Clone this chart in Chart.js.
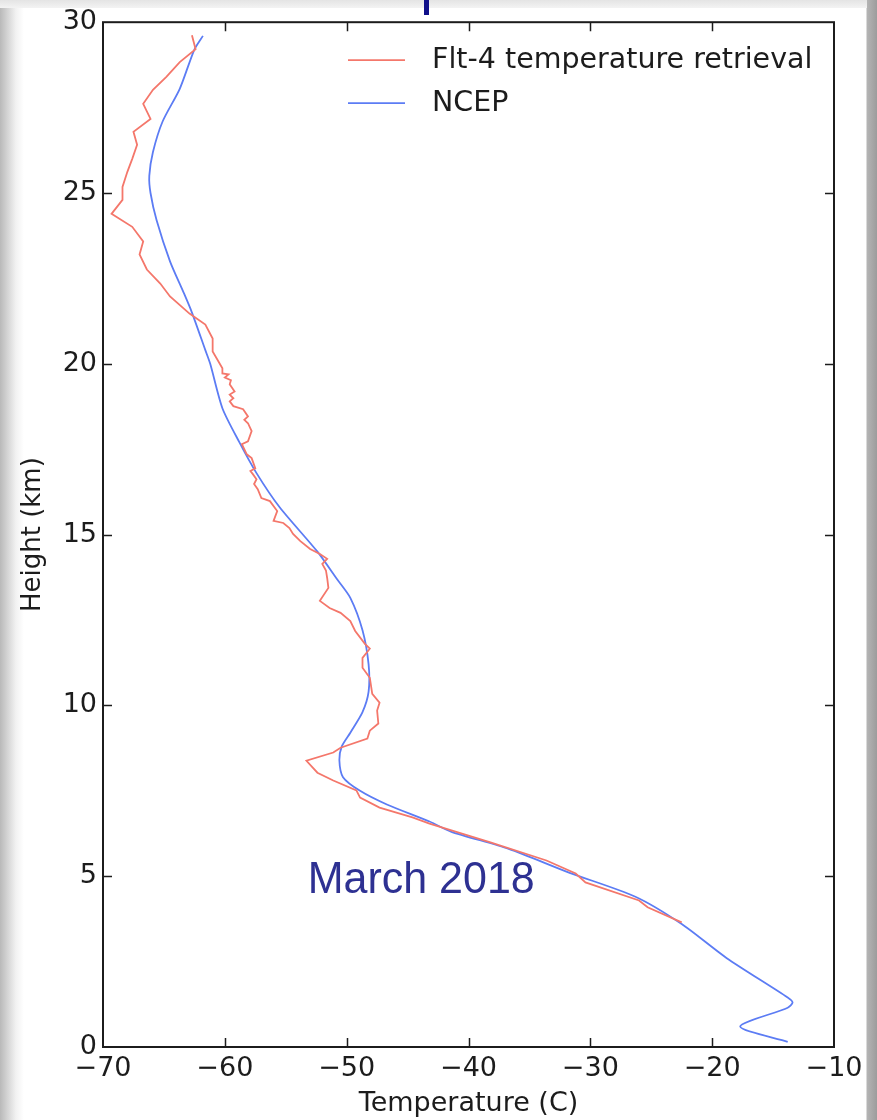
<!DOCTYPE html>
<html>
<head>
<meta charset="utf-8">
<script src="https://cdn.jsdelivr.net/npm/chart.js@4.4.1/dist/chart.umd.min.js"></script>
<style>
  html, body { margin: 0; padding: 0; }
  body {
    width: 877px; height: 1120px; overflow: hidden; position: relative;
    background: linear-gradient(to right, #b9b9b9 0px, #d6d6d6 8px, #f2f2f2 16px, #ffffff 24px, #ffffff 866px, #b4b4b4 867px, #9c9c9c 877px);
  }
  #topband {
    position: absolute; left: 0; top: 0; width: 867px; height: 8px;
    background: linear-gradient(to bottom, #e4e4e4, #f3f3f3);
  }
  #mark {
    position: absolute; left: 424px; top: 0; width: 5px; height: 15px; background: #10108a;
  }
  #wrap { position: absolute; left: 0; top: 0; width: 877px; height: 1120px; }
</style>
</head>
<body>
<div id="topband"></div>
<div id="mark"></div>
<div id="wrap"><canvas id="c" width="877" height="1120"></canvas></div>
<script>
// Temperature profiles (temperature in C, height in km)
const fltLabel = 'Flt-4 temperature retrieval';
const fltTemp = [
  -62.7, -62.4, -63.7, -64.8, -65.9, -66.7, -66.1, -67.5, -67.2, -67.6,
  -68.0, -68.4, -68.4, -69.3, -67.6, -66.7, -67.0, -66.4, -65.3, -64.5,
  -62.9, -61.6, -61.0, -61.0, -60.2, -60.2, -59.7, -60.0, -59.5, -59.6,
  -59.2, -59.6, -59.3, -59.6, -59.3, -58.5, -58.1, -58.4, -58.1, -57.8,
  -58.1, -58.6, -58.2, -57.8, -57.5, -57.9, -57.7, -57.4, -57.6, -57.3,
  -57.0, -56.3, -55.7, -56.0, -55.2, -54.7, -54.4, -53.8, -53.0, -52.2,
  -51.6, -52.0, -51.7, -51.6, -51.5, -52.2, -51.4, -50.5, -49.7, -49.3,
  -48.5, -48.1, -48.7, -48.7, -48.1, -47.9, -47.3, -47.5, -47.4, -48.1,
  -48.3, -50.5, -51.1, -53.3, -52.4, -51.1, -49.2, -48.9, -47.3, -44.6,
  -43.2, -38.2, -33.6, -31.2, -30.4, -26.0, -25.3, -22.5
];
const fltHeight = [
  29.62, 29.21, 28.83, 28.40, 28.02, 27.61, 27.17, 26.79, 26.41, 26.00,
  25.62, 25.18, 24.80, 24.39, 24.01, 23.58, 23.20, 22.76, 22.35, 21.97,
  21.47, 21.15, 20.74, 20.36, 19.87, 19.72, 19.69, 19.60, 19.52, 19.40,
  19.19, 19.10, 18.99, 18.90, 18.76, 18.67, 18.46, 18.36, 18.26, 18.03,
  17.73, 17.65, 17.35, 17.24, 16.94, 16.86, 16.77, 16.62, 16.48, 16.33,
  16.07, 15.98, 15.69, 15.40, 15.34, 15.19, 15.02, 14.81, 14.58, 14.43,
  14.29, 14.14, 13.95, 13.73, 13.44, 13.06, 12.85, 12.71, 12.47, 12.18,
  11.80, 11.66, 11.39, 11.10, 10.81, 10.34, 10.08, 9.85, 9.47, 9.26,
  9.03, 8.76, 8.62, 8.38, 8.03, 7.80, 7.51, 7.30, 7.01, 6.72,
  6.54, 5.99, 5.46, 5.08, 4.82, 4.29, 4.09, 3.65
];

const ncepLabel = 'NCEP';
const ncepTemp = [
  -61.8, -62.5, -63.7, -65.1, -65.9, -66.2, -66.1, -65.6, -64.5, -63.4,
  -62.7, -61.6, -61.2, -60.2, -58.8, -57.4, -55.5, -52.4, -50.8, -49.7,
  -48.7, -48.2, -48.2, -48.7, -49.7, -50.4, -50.6, -50.3, -48.9, -46.7,
  -43.2, -41.4, -36.7, -31.7, -26.3, -22.5, -18.8, -13.8, -13.4, -13.8,
  -17.7, -13.8
];
const ncepHeight = [
  29.6, 29.2, 28.05, 27.1, 26.2, 25.5, 25.0, 24.2, 23.0, 22.1,
  21.5, 20.4, 20.0, 18.7, 17.7, 16.8, 15.8, 14.5, 13.7, 13.15,
  12.2, 11.2, 10.4, 9.8, 9.2, 8.8, 8.4, 7.9, 7.5, 7.1,
  6.6, 6.3, 5.8, 5.1, 4.4, 3.6, 2.6, 1.45, 1.3, 1.15,
  0.6, 0.15
];

const tempTicks = [-70, -60, -50, -40, -30, -20, -10];
const heightTicks = [0, 5, 10, 15, 20, 25, 30];
const note = { text: 'March 2018', temp: -53.2, height: 4.5 };

const toPoints = (xs, ys) => xs.map((x, i) => ({ x, y: ys[i] }));
const fmt = v => (v < 0 ? '\u2212' + Math.abs(v) : String(v));

const TICK_FONT = { family: '"DejaVu Sans", sans-serif', size: 27 };
const INK = '#1c1c1c';

// Boxed frame with inward ticks on all four sides, legend and note
const framePlugin = {
  id: 'frame',
  afterDatasetsDraw(chart) {
    const { ctx, chartArea: a, scales: { x, y } } = chart;
    ctx.save();
    ctx.strokeStyle = INK;
    ctx.lineWidth = 2;
    ctx.strokeRect(a.left, a.top, a.right - a.left, a.bottom - a.top);
    ctx.lineWidth = 1.5;
    const L = 9;
    ctx.beginPath();
    tempTicks.forEach(v => {
      const px = Math.round(x.getPixelForValue(v)) + 0.5;
      if (px <= a.left + 2 || px >= a.right - 2) return;
      ctx.moveTo(px, a.bottom); ctx.lineTo(px, a.bottom - L);
      ctx.moveTo(px, a.top); ctx.lineTo(px, a.top + L);
    });
    heightTicks.forEach(v => {
      const py = Math.round(y.getPixelForValue(v)) + 0.5;
      if (py <= a.top + 2 || py >= a.bottom - 2) return;
      ctx.moveTo(a.left, py); ctx.lineTo(a.left + L, py);
      ctx.moveTo(a.right, py); ctx.lineTo(a.right - L, py);
    });
    ctx.stroke();

    // legend
    ctx.font = '28.5px "DejaVu Sans", sans-serif';
    ctx.textBaseline = 'middle';
    ctx.textAlign = 'left';
    chart.data.datasets.forEach((ds, i) => {
      const ly = a.top + 38 + i * 43;
      ctx.strokeStyle = ds.borderColor;
      ctx.lineWidth = 1.8;
      ctx.beginPath();
      ctx.moveTo(a.left + 245, ly); ctx.lineTo(a.left + 302, ly);
      ctx.stroke();
      ctx.fillStyle = INK;
      ctx.fillText(ds.label, a.left + 329, ly);
    });

    // note
    ctx.fillStyle = '#2e3192';
    ctx.font = '43px "Liberation Sans", Arial, sans-serif';
    ctx.textBaseline = 'alphabetic';
    ctx.translate(x.getPixelForValue(note.temp), y.getPixelForValue(note.height));
    ctx.scale(1, 1.04);
    ctx.fillText(note.text, 0, 0);
    ctx.restore();
  }
};

new Chart(document.getElementById('c'), {
  type: 'scatter',
  data: {
    datasets: [
      {
        label: fltLabel,
        data: toPoints(fltTemp, fltHeight),
        showLine: true,
        borderColor: '#f4776b',
        borderWidth: 1.8,
        pointRadius: 0,
        tension: 0
      },
      {
        label: ncepLabel,
        data: toPoints(ncepTemp, ncepHeight),
        showLine: true,
        borderColor: '#5c7cf4',
        borderWidth: 1.8,
        pointRadius: 0,
        tension: 0.25
      }
    ]
  },
  options: {
    responsive: false,
    animation: false,
    events: [],
    layout: { padding: { left: 0, right: 43, top: 20, bottom: 0 } },
    plugins: { legend: { display: false }, tooltip: { enabled: false } },
    scales: {
      x: {
        type: 'linear',
        min: -70, max: -10,
        afterBuildTicks: s => { s.ticks = tempTicks.map(v => ({ value: v })); },
        afterFit: s => { s.height = 73; },
        grid: { display: false, drawTicks: false },
        border: { display: false },
        ticks: { font: TICK_FONT, color: INK, padding: 6, maxRotation: 0, callback: fmt },
        title: { display: true, text: 'Temperature (C)', color: INK,
                 font: { family: '"DejaVu Sans", sans-serif', size: 27 }, padding: { top: 0, bottom: 0 } }
      },
      y: {
        type: 'linear',
        min: 0, max: 30,
        afterBuildTicks: s => { s.ticks = heightTicks.map(v => ({ value: v })); },
        afterFit: s => { s.width = 103; },
        grid: { display: false, drawTicks: false },
        border: { display: false },
        ticks: { font: TICK_FONT, color: INK, padding: 6, callback: fmt },
        title: { display: true, text: 'Height (km)', color: INK,
                 font: { family: '"DejaVu Sans", sans-serif', size: 26 }, padding: { top: 18, bottom: 0 } }
      }
    }
  },
  plugins: [framePlugin]
});
</script>
</body>
</html>
